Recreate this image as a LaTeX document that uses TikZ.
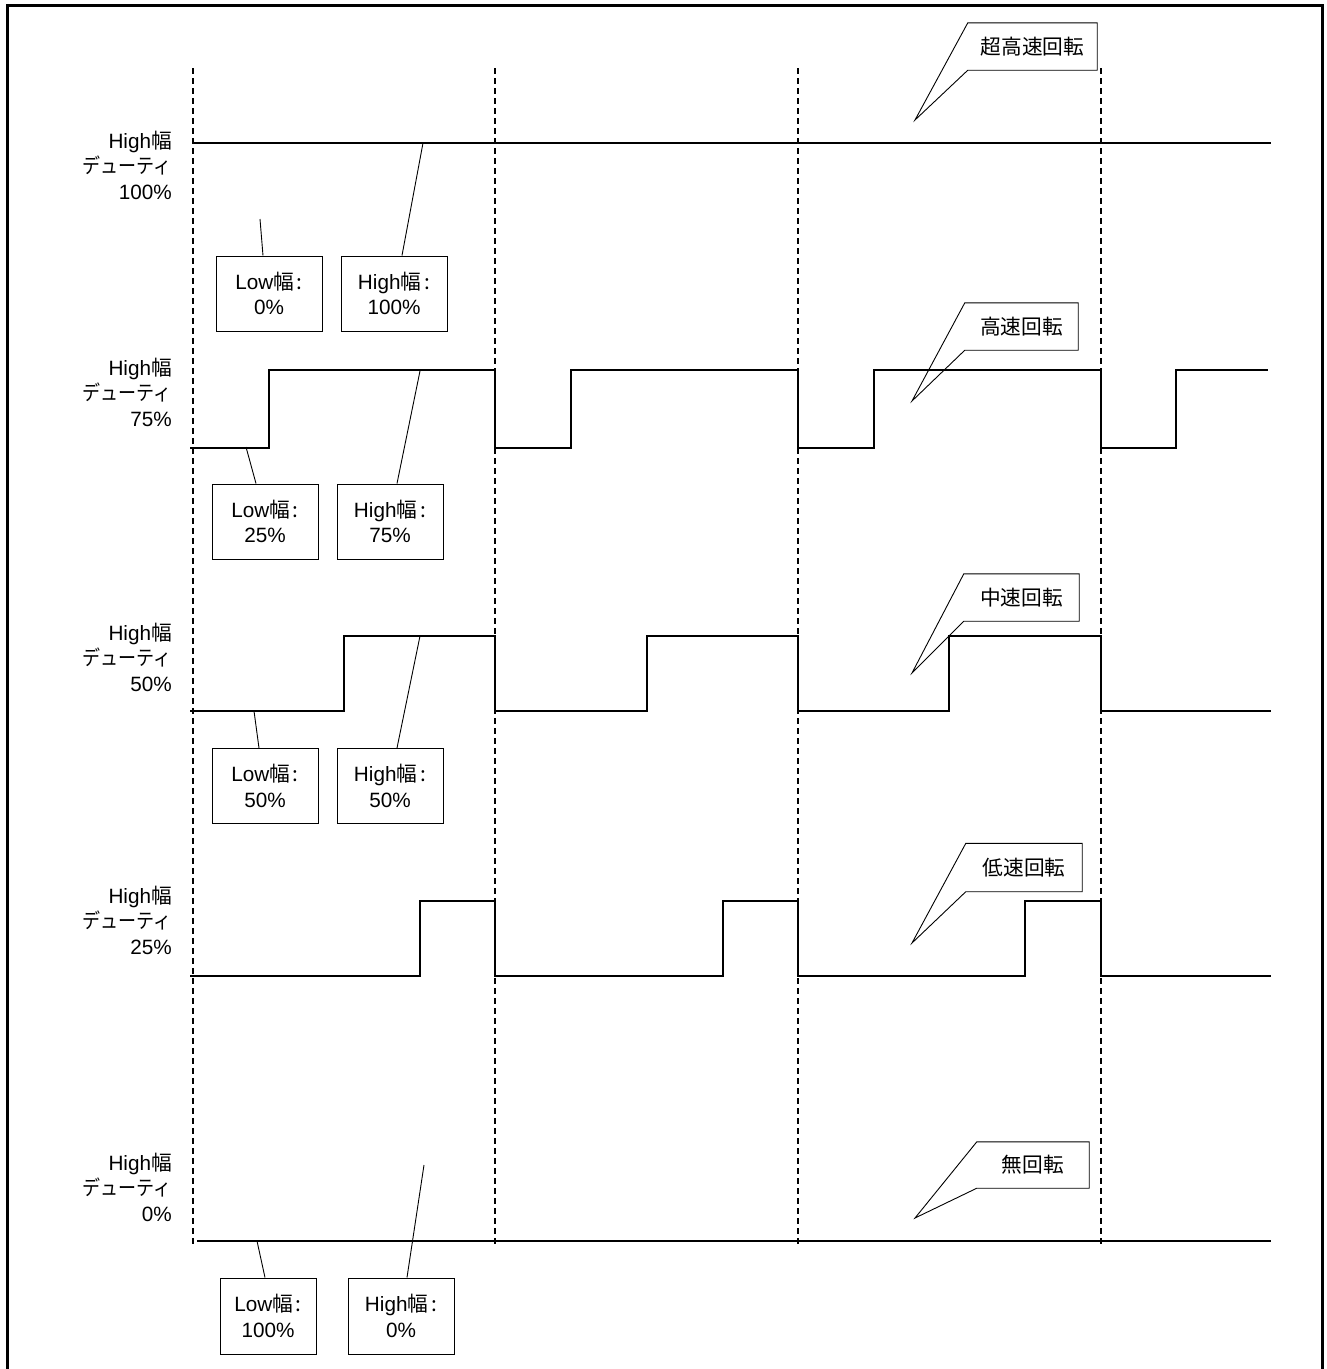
\documentclass[tikz,border=0pt]{standalone}
\usepackage{fontspec}
\setmainfont{Liberation Sans}
\newfontfamily\jpfont[CharacterWidth=Proportional]{Noto Sans CJK JP}
\newfontfamily\jpkana[FakeStretch=0.87]{Noto Sans CJK JP}
\newcommand{\J}[1]{{\jpfont #1}}
\newcommand{\duty}{{\jpkana デューティ}}
\newcommand{\wcolon}{\J{幅}\hspace{3pt}\J{：}}
\tikzset{
  txt/.style={font=\fontsize{20.7}{25.5}\selectfont, inner sep=0pt, align=center},
  lvl/.style={txt, align=right, anchor=east},
  wbox/.style={txt, draw, line width=1pt, minimum width=106pt, minimum height=75pt},
  wave/.style={line width=2pt, line join=miter},
  guide/.style={line width=1.4pt, dash pattern=on 6pt off 4pt},
  leader/.style={line width=0.9pt},
  callout/.style={draw, line width=0.9pt, line join=miter},
}
\begin{document}
\begin{tikzpicture}[x=1pt,y=-1pt]
\useasboundingbox (0,0) rectangle (1327,1369);
% frame
\draw[line width=3pt] (7,1375) -- (7,5) -- (1322,5) -- (1322,1375);

% guides
\foreach \gx in {193,495,798,1101}
  \draw[guide] (\gx,68) -- (\gx,1245);

% waveforms
\draw[wave] (193,143) -- (1271,143);
\draw[wave] (190,448) -- (269,448) -- (269,370) -- (495,370) -- (495,448) -- (571,448) -- (571,370) -- (798,370) -- (798,448) -- (874,448) -- (874,370) -- (1101,370) -- (1101,448) -- (1176,448) -- (1176,370) -- (1268,370);
\draw[wave] (190,711) -- (344,711) -- (344,636) -- (495,636) -- (495,711) -- (647,711) -- (647,636) -- (798,636) -- (798,711) -- (949,711) -- (949,636) -- (1101,636) -- (1101,711) -- (1271,711);
\draw[wave] (190,976) -- (420,976) -- (420,901) -- (495,901) -- (495,976) -- (723,976) -- (723,901) -- (798,901) -- (798,976) -- (1025,976) -- (1025,901) -- (1101,901) -- (1101,976) -- (1271,976);
\draw[wave] (197,1241) -- (1271,1241);

% level labels
\node[lvl] (lv100) at (172,165) {High\J{幅}\\\duty\\100\%};
\node[lvl] (lv75) at (172,392) {High\J{幅}\\\duty\\75\%};
\node[lvl] (lv50) at (172,657) {High\J{幅}\\\duty\\50\%};
\node[lvl] (lv25) at (172,920) {High\J{幅}\\\duty\\25\%};
\node[lvl] (lv0) at (172,1187) {High\J{幅}\\\duty\\0\%};

% width boxes
\node[wbox] (b1) at (269,293.5) {Low\wcolon\\0\%};
\node[wbox] (b2) at (394,293.5) {High\wcolon\\100\%};
\node[wbox] (b3) at (265,521.5) {Low\wcolon\\25\%};
\node[wbox] (b4) at (390,521.5) {High\wcolon\\75\%};
\node[wbox] (b5) at (265,786) {Low\wcolon\\50\%};
\node[wbox] (b6) at (390,786) {High\wcolon\\50\%};
\node[wbox, minimum width=96pt, minimum height=76pt] (b7) at (268,1316) {Low\wcolon\\100\%};
\node[wbox, minimum height=76pt] (b8) at (401,1316) {High\wcolon\\0\%};

% leader ends
\coordinate (p1) at (260,219);
\coordinate (p2) at (423,143);
\coordinate (p3) at (246,447);
\coordinate (p4) at (420,371);
\coordinate (p5) at (254,711);
\coordinate (p6) at (420,636);
\coordinate (p7) at (257,1241);
\coordinate (p8) at (424,1165);
\draw[leader] (p1) -- ([xshift=-6pt]b1.north);
\draw[leader] (p2) -- ([xshift=8pt]b2.north);
\draw[leader] (p3) -- ([xshift=-9pt]b3.north);
\draw[leader] (p4) -- ([xshift=7pt]b4.north);
\draw[leader] (p5) -- ([xshift=-6pt]b5.north);
\draw[leader] (p6) -- ([xshift=7pt]b6.north);
\draw[leader] (p7) -- ([xshift=-3pt]b7.north);
\draw[leader] (p8) -- ([xshift=6pt]b8.north);

% callouts
\node[txt, minimum width=129pt, minimum height=47pt] (c1) at (1032.5,46.5) {\J{超高速回転}};
\coordinate (t1) at (915,120);
\draw[callout] (c1.north west) -- (c1.north east) -- (c1.south east) -- (c1.south west) -- (t1) -- cycle;

\node[txt, minimum width=113pt, minimum height=47pt] (c2) at (1021.5,326.5) {\J{高速回転}};
\coordinate (t2) at (912,401);
\draw[callout] (c2.north west) -- (c2.north east) -- (c2.south east) -- (c2.south west) -- (t2) -- cycle;

\node[txt, minimum width=115pt, minimum height=47pt] (c3) at (1021.5,597.5) {\J{中速回転}};
\coordinate (t3) at (912,673);
\draw[callout] (c3.north west) -- (c3.north east) -- (c3.south east) -- (c3.south west) -- (t3) -- cycle;

\node[txt, minimum width=116pt, minimum height=48pt] (c4) at (1024,867.5) {\J{低速回転}};
\coordinate (t4) at (912,943);
\draw[callout] (c4.north west) -- (c4.north east) -- (c4.south east) -- (c4.south west) -- (t4) -- cycle;

\node[txt, minimum width=112pt, minimum height=46pt] (c5) at (1033,1165) {\J{無回転}};
\coordinate (t5) at (915,1218);
\draw[callout] (c5.north west) -- (c5.north east) -- (c5.south east) -- (c5.south west) -- (t5) -- cycle;
\end{tikzpicture}
\end{document}
